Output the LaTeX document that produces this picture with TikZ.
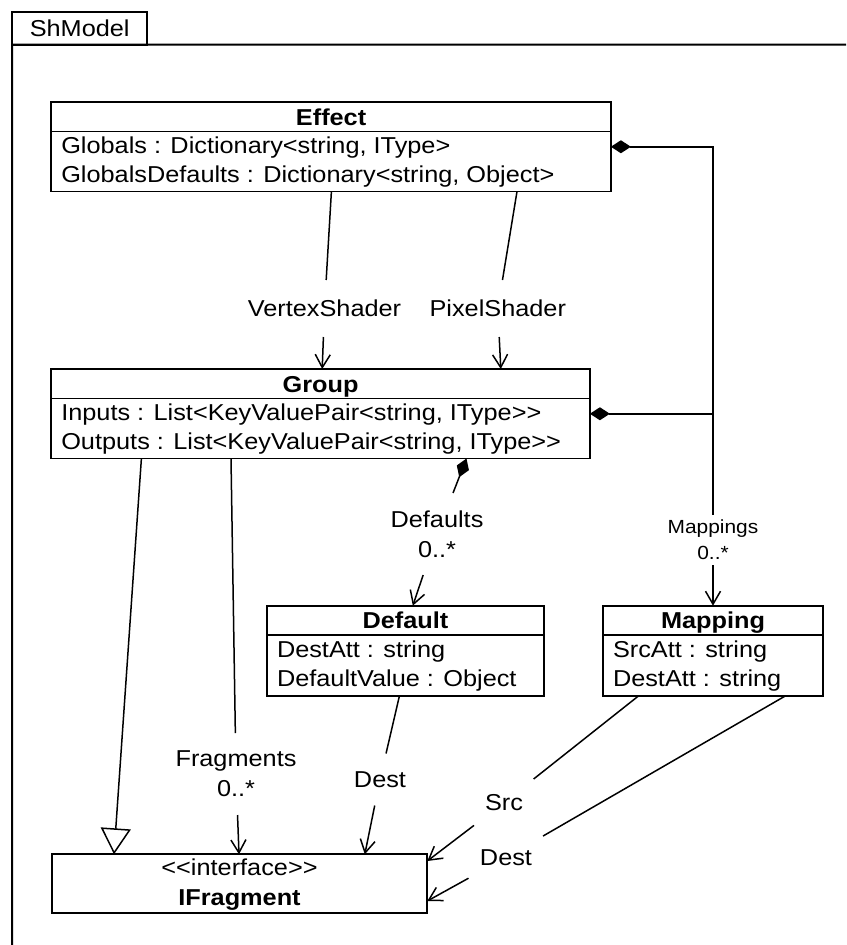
\documentclass[tikz,border=0pt]{standalone}
\usepackage{fontspec}
\setmainfont{Liberation Sans}[FakeStretch=1.1]
\usetikzlibrary{arrows.meta}

\newcommand\umlfont{\fontsize{23}{30}\selectfont}
\newcommand\umlsmall{\fontsize{19}{26}\selectfont}

% UML class box: name, left, top, right, bottom, title, first row, second row
\newcommand\umlclass[8]{%
  \node[classbox, minimum width={(#4-#2)*1pt}, minimum height={(#5-#3)*1pt}]
    (#1) at ({(#2+#4)/2},{(#3+#5)/2}) {};
  \draw[divider] ([yshift=-29.5pt]#1.north west) -- ([yshift=-29.5pt]#1.north east);
  \node[anchor=base, font=\umlfont\bfseries] (#1-title) at ([yshift=-23pt]#1.north) {#6};
  \node[anchor=base west] (#1-a) at ([xshift=10pt,yshift=-51.5pt]#1.north west) {#7};
  \node[anchor=base west] (#1-b) at ([xshift=10pt,yshift=-80.5pt]#1.north west) {#8};
}

\begin{document}
\begin{tikzpicture}[x=1pt,y=-1pt,
  font=\umlfont,
  every node/.style={inner sep=0pt, outer sep=0pt},
  frameline/.style={line width=2pt},
  classbox/.style={draw, rectangle, line width=1.8pt},
  divider/.style={line width=1.8pt},
  conn/.style={line width=1.5pt},
  assoc/.style={conn, -{Straight Barb[length=13pt,width=15pt]}},
  comp/.style={conn, {Diamond[length=20pt,width=13pt]}-},
  inherit/.style={conn, -{Triangle[open,length=26pt,width=30pt]}},
  role/.style={align=center},
  smallrole/.style={font=\umlsmall, align=center},
]
\useasboundingbox (0,0) rectangle (846,945);

% package frame with its name tab
\node[draw, frameline, minimum width=135.4pt, minimum height=32.2pt] (tab) at (79.7,28.4) {ShModel};
\draw[frameline] (12,945) -- (tab.south west) -- (846,44.5);

% classes
\umlclass{effect}{51.3}{102}{610.9}{191.5}{Effect}%
  {Globals : Dictionary<string, IType>}{GlobalsDefaults : Dictionary<string, Object>}
\umlclass{group}{51.3}{369}{589.9}{458.5}{Group}%
  {Inputs : List<KeyValuePair<string, IType>{}>}{Outputs : List<KeyValuePair<string, IType>{}>}
\umlclass{defaultcls}{267}{605.7}{544}{696}{Default}%
  {DestAtt : string}{DefaultValue : Object}
\umlclass{mapping}{603}{605.7}{823}{696}{Mapping}%
  {SrcAtt : string}{DestAtt : string}

% interface
\node[classbox, minimum width=375.6pt, minimum height=59pt] (ifrag) at (239.5,883.8) {};
\node[anchor=base] (ifrag-st) at ([yshift=-20.7pt]ifrag.north) {<{}<interface>{}>};
\node[anchor=base, font=\umlfont\bfseries] (ifrag-title) at ([yshift=-51.4pt]ifrag.north) {IFragment};

% role labels (their boxes leave the gap in each connector)
\node[role, minimum height=57pt] (vsl) at (324.5,308.5) {VertexShader};
\node[role, minimum height=57pt] (psl) at (497.8,308.5) {PixelShader};
\node[role, minimum height=82pt] (defl) at (437,534) {Defaults\\0..*};
\node[smallrole, minimum height=50pt] (mapl) at (713,540) {Mappings\\0..*};
\node[role, minimum height=82pt] (fragl) at (236,774) {Fragments\\0..*};
\node[role, minimum height=52pt] (dest1) at (380,779.5) {Dest};
\node[role, minimum height=47pt, minimum width=60pt] (srcl) at (504,802.5) {Src};
\node[role, minimum height=43pt, minimum width=75pt] (dest2) at (506,857.5) {Dest};

% Effect -> Group
\draw[conn] ([xshift=280.1pt]effect.south west) -- (vsl);
\draw[assoc] (vsl) -- ([xshift=270.9pt]group.north west);
\draw[conn] ([xshift=465.7pt]effect.south west) -- (psl);
\draw[assoc] (psl) -- ([xshift=449.5pt]group.north west);

% compositions of Mapping
\draw[comp] (effect.east) -| (mapl);
\draw[comp] (group.east) -- (group.east -| mapl);
\draw[assoc] (mapl) -- (mapping.north);

% composition of Default
\draw[comp] ([xshift=415.2pt]group.south west) -- (defl);
\draw[assoc] (defl) -- ([xshift=145.8pt]defaultcls.north west);

% Group realises IFragment and holds fragments
\draw[inherit] ([xshift=90.1pt]group.south west) -- ([xshift=62.3pt]ifrag.north west);
\draw[conn] ([xshift=179.7pt]group.south west) -- (fragl);
\draw[assoc] (fragl) -- ([xshift=187.3pt]ifrag.north west);

% Default -> IFragment
\draw[conn] ([xshift=132.4pt]defaultcls.south west) -- (dest1);
\draw[assoc] (dest1) -- ([xshift=313.1pt]ifrag.north west);

% Mapping -> IFragment
\draw[conn] ([xshift=35.4pt]mapping.south west) -- (srcl);
\draw[assoc] (srcl) -- ([yshift=-6.7pt]ifrag.north east);
\draw[conn] ([xshift=182.2pt]mapping.south west) -- (dest2);
\draw[assoc] (dest2) -- ([yshift=-17.2pt]ifrag.east);
\end{tikzpicture}
\end{document}
